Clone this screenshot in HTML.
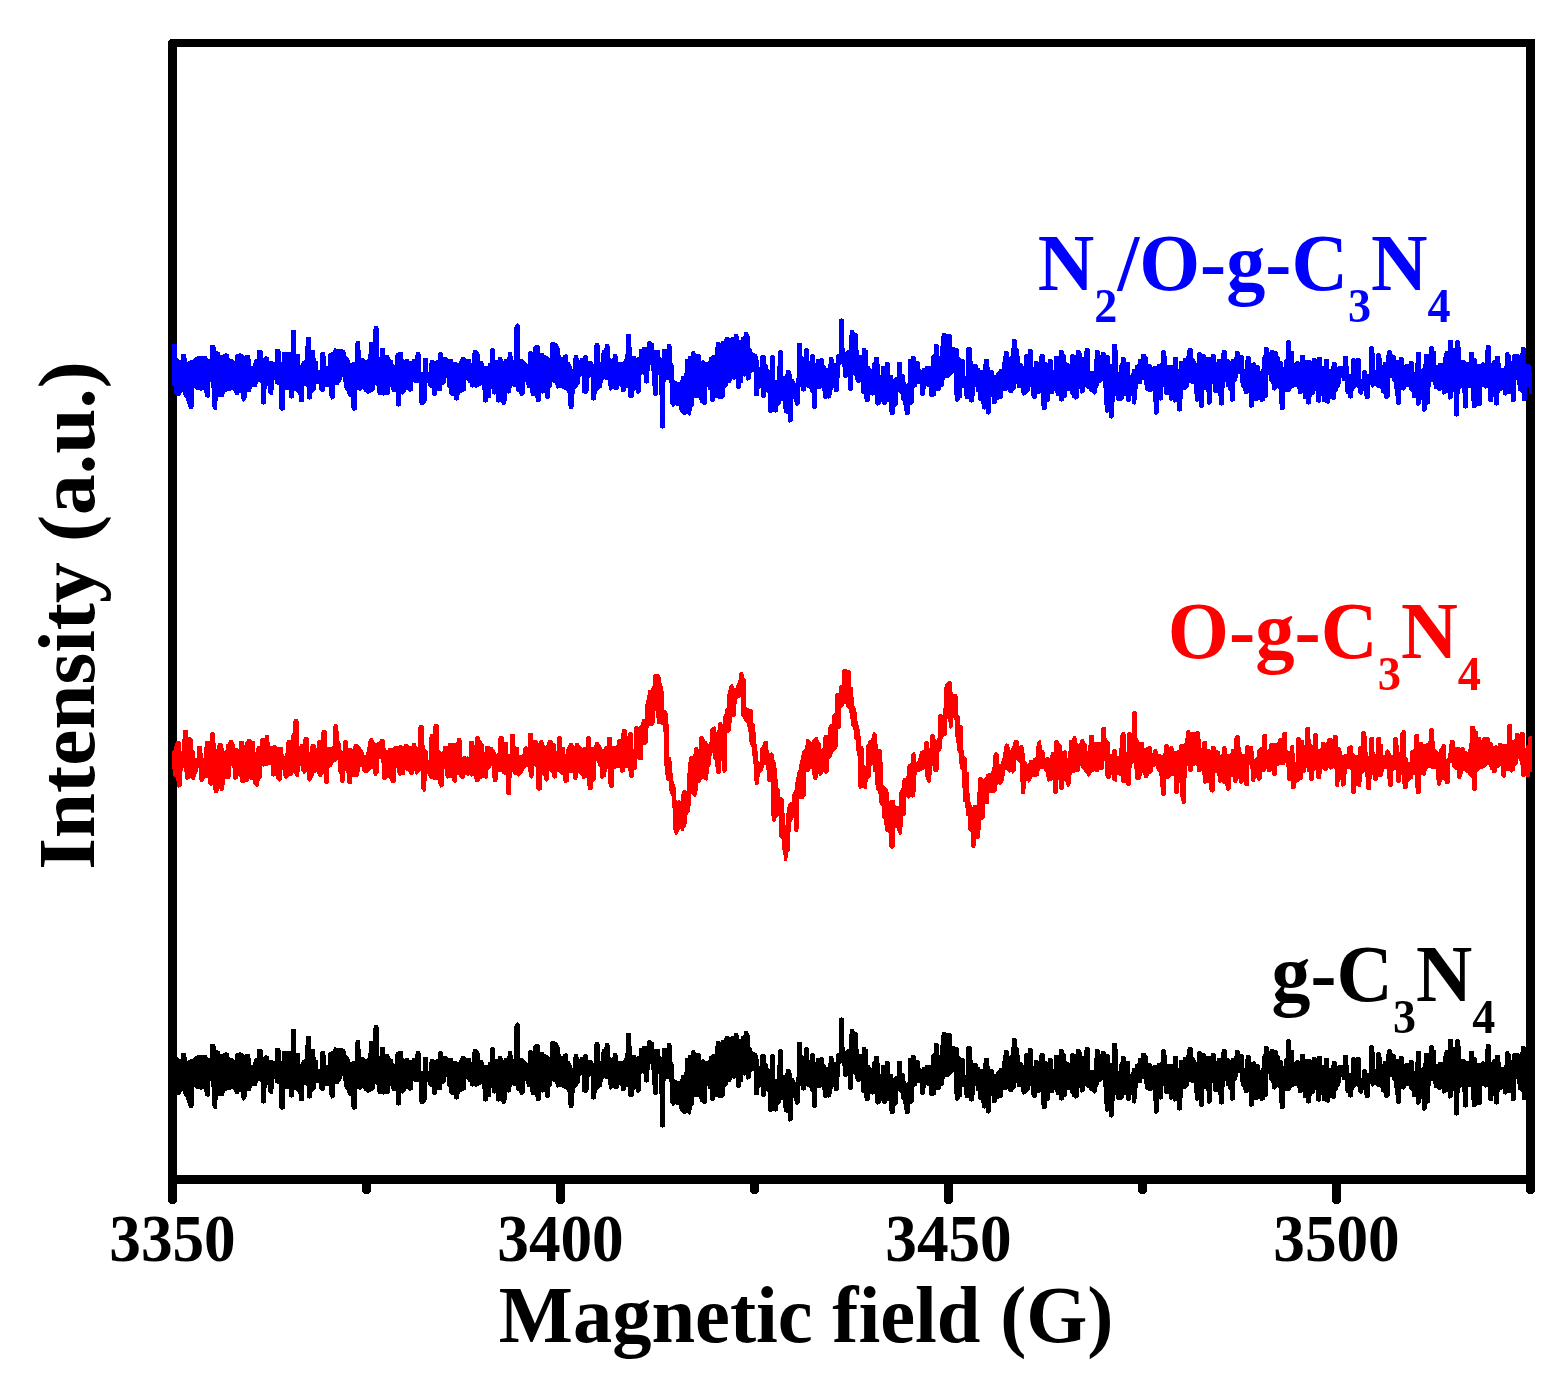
<!DOCTYPE html>
<html lang="en"><head><meta charset="utf-8"><title>EPR spectra</title>
<style>html,body{margin:0;padding:0;background:#fff}svg{display:block}</style></head>
<body>
<svg width="1558" height="1375" viewBox="0 0 1558 1375">
<defs><path id="tr" d="M172.3,344.0 176.7,344.0 177.1,357.5 180.3,360.7 181.6,353.6 186.0,353.6 186.9,362.0 193.1,359.4 197.6,355.6 207.2,356.2 207.6,358.8 210.1,358.8 210.4,344.7 215.2,344.7 216.0,351.1 219.4,351.7 220.3,355.6 225.2,353.4 228.4,353.6 229.7,358.5 232.9,358.5 234.2,362.6 235.5,354.9 239.3,353.4 242.9,353.6 243.8,355.6 250.2,355.2 251.1,365.8 252.8,366.5 254.1,360.1 257.0,358.8 257.5,349.8 262.4,349.5 263.1,358.5 265.6,356.2 268.6,356.9 269.5,361.3 275.0,361.6 275.5,348.5 280.4,348.5 281.2,365.8 282.3,352.1 290.9,352.1 291.3,329.5 295.8,329.5 296.2,354.3 299.7,354.3 300.3,365.8 302.9,360.7 305.0,360.1 305.4,347.2 306.3,336.7 310.6,336.7 311.2,350.1 315.1,350.1 315.7,361.1 317.6,361.1 318.3,369.7 319.6,369.7 320.4,353.6 321.5,352.4 325.3,352.4 326.0,365.8 327.6,365.8 328.5,353.6 333.0,351.7 334.3,348.3 342.0,349.2 345.2,350.8 346.5,356.2 349.1,358.1 350.4,362.6 354.6,362.4 355.1,344.0 356.1,341.2 360.0,341.2 361.0,358.1 363.8,358.1 365.1,360.7 368.3,358.8 369.0,342.1 373.0,342.1 373.3,329.3 374.2,326.0 377.8,326.0 378.9,328.6 379.1,356.9 380.1,356.9 380.4,348.1 384.9,348.1 385.3,354.9 388.7,354.9 390.0,358.8 392.6,360.1 393.5,363.9 394.8,364.9 395.2,356.2 396.5,353.0 398.6,352.0 402.9,352.0 403.3,358.8 404.8,360.7 405.4,359.0 408.9,359.0 409.3,360.7 411.9,360.7 412.5,359.0 415.1,359.0 415.3,355.2 416.3,352.1 419.9,352.1 420.8,354.3 421.2,371.9 422.8,371.9 423.2,358.1 427.9,358.1 428.2,371.9 428.9,371.9 429.4,363.3 430.2,360.3 433.7,360.1 435.0,361.0 437.9,359.8 438.2,353.4 439.5,352.1 442.0,352.1 443.0,353.6 443.3,357.2 446.5,357.2 448.2,358.8 452.7,359.0 453.1,362.0 456.8,362.0 457.7,362.9 459.0,362.9 459.7,360.7 461.3,357.2 464.5,357.2 466.2,358.8 470.9,359.0 471.3,362.9 472.2,362.9 472.3,354.3 473.2,350.2 476.9,350.2 478.6,352.1 479.6,354.3 480.1,361.1 482.8,361.3 483.7,362.9 484.1,365.8 488.0,365.8 488.2,362.9 489.9,362.9 490.2,349.2 491.4,348.1 493.8,348.1 494.9,349.5 495.2,359.8 497.9,359.8 498.2,357.2 501.7,357.2 502.6,359.0 503.4,360.7 504.7,359.0 506.8,358.8 507.7,356.9 508.3,352.1 512.0,352.1 512.4,354.7 512.9,359.8 513.7,359.8 513.9,329.9 515.2,324.8 517.4,323.1 519.7,325.4 520.1,359.0 522.6,359.0 524.2,360.3 526.1,362.4 527.8,364.9 528.0,352.4 529.3,351.1 531.6,351.1 532.5,352.0 533.2,347.2 535.5,345.0 538.6,345.0 539.8,346.2 540.1,353.0 543.7,353.3 544.7,355.2 547.5,356.2 549.6,358.1 550.1,344.0 551.1,342.1 554.7,342.1 557.6,343.6 558.6,346.6 559.9,349.2 560.4,354.9 562.0,357.5 563.7,354.9 565.0,354.3 567.1,354.3 568.0,355.6 568.2,362.0 570.0,362.4 570.9,364.6 571.8,367.1 572.6,369.1 573.1,360.3 574.1,355.2 577.7,355.2 578.6,357.8 579.3,360.1 580.3,357.9 582.8,357.9 583.7,356.0 585.0,354.9 587.0,355.2 588.0,356.9 588.2,361.0 591.8,361.0 592.7,362.9 593.6,363.9 594.0,347.2 595.0,343.1 598.8,343.1 599.8,345.3 600.1,362.0 600.8,362.0 601.1,354.3 602.1,350.1 604.3,349.5 605.2,344.0 608.8,344.0 609.8,346.2 610.1,357.8 611.3,359.0 612.6,357.8 613.1,354.0 616.7,354.0 617.8,356.2 618.0,362.0 622.9,362.0 623.9,360.7 624.8,357.8 625.2,354.3 626.0,353.6 626.2,334.0 630.9,334.0 631.1,347.0 631.9,347.5 632.1,356.0 635.7,356.0 636.5,358.1 637.7,356.9 638.9,356.5 639.3,349.2 641.9,348.9 642.4,347.0 647.0,347.0 647.3,342.3 648.6,341.1 650.9,341.1 651.9,342.7 653.7,343.4 654.1,349.8 659.9,350.1 660.1,356.5 661.4,358.1 662.1,357.8 662.3,349.2 666.8,348.9 667.2,344.0 670.7,344.0 671.7,346.2 672.1,362.6 673.0,363.7 673.6,365.5 674.0,380.0 675.5,380.9 677.5,381.9 679.6,381.9 680.7,380.0 681.1,376.1 683.9,375.9 684.3,372.9 684.9,372.6 685.2,359.0 687.7,358.8 688.1,356.2 690.9,356.0 691.2,352.4 692.5,351.1 694.5,351.1 696.1,353.6 699.7,354.0 700.9,355.6 701.2,360.7 703.1,360.1 704.4,361.1 705.7,362.0 707.6,362.0 708.9,360.7 709.3,357.2 710.8,356.9 712.5,355.2 714.8,354.9 715.1,347.2 716.0,346.6 716.2,342.1 719.8,342.1 720.5,343.1 721.5,340.8 724.1,340.8 724.3,338.9 725.3,337.0 728.8,337.0 729.7,338.0 731.4,337.0 733.9,337.0 734.3,334.0 737.8,334.0 738.7,336.1 739.1,339.8 740.7,339.9 741.3,337.0 742.9,336.7 744.0,335.7 744.2,332.1 747.8,332.1 748.7,334.0 749.7,335.9 750.0,347.9 751.9,349.2 752.3,352.1 754.5,353.0 756.7,354.3 758.3,356.9 759.0,366.5 760.0,367.1 760.1,356.9 761.2,355.2 764.6,355.2 765.9,356.9 766.2,363.9 767.6,365.2 768.1,367.8 768.9,369.7 769.9,369.7 770.1,356.2 771.4,355.2 773.6,355.2 774.6,356.5 774.9,380.0 776.8,380.0 777.2,365.8 778.1,365.2 778.4,351.1 779.4,350.2 781.7,350.2 783.0,351.3 783.2,375.7 784.8,375.7 785.3,373.9 786.1,373.5 786.3,370.1 789.7,370.1 790.9,371.4 791.3,373.9 792.0,374.2 792.2,379.1 793.8,379.3 794.5,381.2 795.1,382.9 795.8,382.9 796.1,378.0 796.8,377.8 797.1,343.1 801.9,343.1 802.1,354.9 803.1,356.9 803.8,356.9 804.2,349.5 805.3,348.1 807.6,348.1 808.9,349.5 809.2,360.7 809.9,360.7 810.2,355.2 811.5,354.3 813.4,354.3 814.8,355.2 815.1,362.9 816.1,362.9 816.4,359.0 819.8,359.0 820.5,358.1 822.4,358.1 823.7,359.4 824.1,364.9 825.3,365.8 826.2,367.8 827.9,367.8 828.2,363.9 828.9,363.9 829.2,357.2 832.7,357.2 833.3,358.8 834.1,359.0 834.3,362.9 835.9,362.9 836.1,354.9 837.4,354.0 838.7,354.0 839.1,319.0 841.3,318.3 843.8,319.0 844.1,347.9 844.9,348.5 845.4,351.7 846.8,350.8 847.7,350.2 849.0,350.2 849.2,335.0 850.0,334.4 850.3,330.2 853.8,330.2 854.6,332.1 855.9,333.1 857.1,333.5 857.7,334.4 858.0,349.8 858.7,350.4 859.0,354.9 861.8,354.9 862.1,348.1 865.7,348.1 866.2,350.1 868.0,350.2 868.2,365.8 869.9,366.2 870.5,368.4 871.8,369.1 872.1,362.9 873.7,362.0 874.1,357.2 878.9,357.2 879.1,363.9 879.8,364.6 880.0,374.8 881.1,374.8 881.3,366.1 884.9,366.1 885.2,362.2 888.5,362.0 889.5,363.3 889.8,374.8 892.6,375.1 893.1,378.7 893.9,379.1 895.2,377.4 896.7,377.0 897.0,362.0 901.7,362.0 902.1,373.9 903.7,374.2 904.7,375.5 904.9,381.9 906.0,382.5 906.7,384.2 907.8,382.5 908.0,359.0 910.8,358.8 911.1,356.2 914.4,356.2 915.7,357.5 916.1,361.1 918.7,361.1 919.8,362.4 920.1,368.8 921.1,369.3 921.6,370.3 922.4,368.0 924.7,367.8 925.1,366.1 930.9,365.8 931.1,356.2 932.4,355.2 933.7,354.0 934.1,344.3 937.5,344.0 938.8,345.3 939.1,356.0 939.9,356.0 940.1,346.2 940.9,345.7 941.1,336.3 942.2,335.7 942.4,333.1 945.6,333.1 946.3,334.0 950.8,334.0 951.8,335.4 952.0,347.0 955.0,347.0 955.4,348.1 958.0,348.1 959.0,349.5 959.2,356.9 960.9,358.5 963.5,358.8 964.6,360.3 964.9,375.7 965.9,375.7 966.2,348.1 967.5,347.2 970.5,347.2 971.8,348.5 972.1,361.1 972.8,361.6 973.1,363.9 976.7,363.9 978.0,365.5 978.5,367.8 979.8,368.2 980.3,369.7 982.9,369.7 983.1,364.6 984.0,363.9 984.3,359.0 988.8,359.0 989.0,367.1 990.1,367.8 990.3,369.9 993.0,370.3 993.9,371.6 994.2,374.8 995.7,374.8 996.2,373.2 997.8,371.6 999.0,370.6 999.3,369.1 1001.9,368.8 1002.1,362.4 1002.9,362.0 1003.1,356.2 1003.9,355.6 1004.2,351.1 1007.8,351.1 1008.8,352.4 1009.1,356.9 1010.1,356.5 1011.1,355.6 1011.4,348.1 1012.1,347.5 1012.4,339.3 1015.7,339.3 1016.8,340.4 1017.0,347.9 1018.0,348.5 1018.8,349.5 1019.1,356.0 1019.8,356.5 1020.1,362.9 1021.9,363.3 1022.9,364.2 1023.2,365.8 1023.9,365.8 1024.2,355.2 1025.5,354.3 1027.8,354.0 1028.0,349.2 1031.5,349.2 1032.8,350.4 1033.1,366.7 1034.0,366.7 1034.2,361.1 1037.5,361.1 1038.3,362.0 1038.8,361.6 1039.1,356.2 1040.4,354.3 1043.7,354.3 1044.7,355.6 1045.0,362.0 1046.9,362.4 1047.8,362.9 1048.1,359.0 1051.7,359.0 1052.7,360.3 1053.0,369.9 1053.7,369.9 1054.0,356.2 1058.9,356.0 1059.1,350.2 1062.7,350.2 1063.7,351.3 1064.0,354.0 1065.0,354.7 1065.8,355.6 1066.0,362.0 1067.3,362.6 1069.4,363.7 1069.9,363.7 1070.2,355.2 1071.4,354.3 1073.5,354.3 1074.3,354.9 1075.8,354.7 1076.1,350.2 1079.7,350.2 1080.7,351.3 1081.2,353.0 1082.0,353.6 1082.2,356.9 1083.8,356.9 1084.0,351.3 1084.8,350.8 1085.0,348.1 1088.6,348.1 1089.9,349.5 1090.2,370.7 1094.0,370.7 1094.3,359.0 1094.8,358.8 1095.1,350.2 1098.7,350.2 1099.7,351.3 1099.9,354.9 1101.0,354.9 1101.2,352.1 1105.1,352.1 1106.0,353.4 1106.2,354.9 1108.7,354.9 1109.7,356.2 1109.9,363.9 1112.0,363.9 1112.3,344.3 1116.9,344.3 1117.1,350.2 1117.9,350.8 1118.2,371.9 1118.9,371.9 1119.2,365.5 1120.2,364.6 1120.5,362.9 1121.0,362.6 1121.2,357.2 1124.8,357.2 1125.9,358.5 1126.1,362.0 1129.7,362.0 1130.0,374.8 1131.0,374.8 1131.3,372.9 1132.0,372.6 1132.3,369.1 1134.9,368.8 1135.1,365.2 1136.4,364.6 1137.7,363.9 1137.9,359.0 1140.8,359.0 1141.0,354.3 1145.4,354.3 1146.4,355.6 1147.7,356.9 1147.9,363.9 1150.0,364.2 1151.4,363.9 1151.9,367.8 1153.0,366.2 1156.8,366.1 1157.3,364.2 1159.8,363.9 1160.9,362.9 1161.2,351.3 1162.5,350.2 1164.8,350.2 1165.8,351.3 1166.1,356.0 1166.8,356.5 1167.1,364.9 1172.7,364.9 1173.0,357.2 1177.7,357.2 1178.0,369.1 1178.9,369.1 1179.1,361.1 1182.7,361.1 1183.0,358.1 1185.8,358.1 1186.3,356.0 1186.8,355.6 1187.1,350.2 1188.4,348.1 1191.9,348.1 1192.8,349.5 1193.0,358.1 1194.3,359.0 1195.8,361.1 1196.1,362.9 1196.9,362.9 1197.1,353.4 1198.4,352.1 1200.5,352.1 1201.5,353.4 1202.3,354.3 1204.7,354.3 1205.6,355.6 1206.1,356.9 1210.7,356.9 1211.2,354.3 1214.6,354.3 1215.6,355.6 1215.9,362.0 1216.9,362.0 1217.4,359.0 1221.0,359.0 1221.3,353.4 1222.0,353.0 1222.3,350.2 1225.9,350.2 1226.6,351.3 1226.9,359.0 1229.0,359.0 1229.7,360.3 1230.5,361.1 1231.8,359.0 1233.8,358.8 1234.1,356.9 1234.9,356.5 1235.1,351.1 1238.7,351.1 1239.7,352.4 1240.0,354.9 1242.6,354.9 1243.6,356.2 1243.8,369.1 1244.9,369.1 1245.1,360.3 1245.9,359.8 1246.2,356.2 1249.6,356.2 1250.8,357.5 1251.0,362.6 1252.3,362.9 1252.8,362.0 1254.8,362.0 1255.7,363.3 1256.2,364.9 1258.7,364.9 1259.8,366.2 1260.0,370.7 1261.0,370.7 1261.3,369.1 1261.8,368.8 1262.1,357.2 1262.8,356.9 1263.1,354.9 1263.9,354.7 1264.1,347.2 1267.7,347.2 1268.7,348.3 1269.0,351.7 1270.0,351.7 1270.3,350.2 1273.6,350.2 1274.4,351.1 1276.7,351.1 1277.7,352.4 1278.0,356.0 1279.0,356.5 1279.8,357.5 1280.0,361.1 1281.8,361.1 1282.9,362.4 1283.1,366.9 1283.9,366.9 1284.2,360.3 1285.2,359.4 1285.9,358.8 1286.2,341.2 1287.2,340.2 1289.5,340.2 1290.7,341.2 1291.0,351.1 1293.9,351.1 1294.2,362.9 1295.2,362.4 1296.5,361.1 1298.5,361.1 1299.6,362.4 1300.1,362.4 1300.3,354.9 1304.7,354.9 1304.9,359.0 1306.2,360.1 1310.6,360.1 1311.6,361.1 1312.1,358.5 1313.2,358.1 1315.7,358.1 1316.8,359.4 1317.3,357.2 1321.9,357.2 1322.2,365.8 1323.7,365.8 1323.9,359.0 1328.8,359.0 1329.1,368.8 1330.6,368.8 1331.1,366.2 1331.9,365.8 1332.2,362.0 1335.8,362.0 1336.8,363.3 1337.3,367.1 1338.6,366.1 1342.7,366.1 1343.2,356.2 1345.0,356.2 1348.0,356.2 1348.2,365.8 1349.0,366.5 1349.2,373.9 1351.0,373.9 1351.3,359.4 1352.3,358.1 1354.4,358.1 1355.4,359.0 1356.4,358.1 1359.5,358.1 1360.8,359.4 1361.1,379.1 1361.8,379.1 1362.1,371.4 1363.4,370.1 1365.7,370.1 1366.7,371.4 1367.2,373.8 1368.8,373.8 1369.0,347.5 1370.6,346.2 1372.9,346.2 1373.9,347.5 1374.1,353.0 1374.9,353.6 1375.2,369.9 1375.9,369.9 1376.2,354.3 1377.5,353.3 1379.8,353.3 1380.8,354.7 1381.1,358.1 1381.8,358.5 1382.1,364.9 1382.9,364.9 1383.1,362.0 1386.0,362.0 1386.2,355.2 1387.0,354.7 1387.2,351.3 1388.5,350.2 1390.8,350.2 1391.9,351.3 1392.1,354.0 1393.1,354.3 1393.9,355.2 1394.9,355.2 1396.0,356.5 1396.2,360.1 1398.8,360.1 1399.1,357.2 1402.6,357.2 1403.7,358.5 1403.9,364.9 1405.2,364.9 1405.7,363.9 1409.1,363.9 1409.3,361.1 1412.9,361.1 1413.9,362.4 1414.2,372.0 1415.0,372.0 1415.2,363.3 1416.0,362.9 1416.3,352.1 1420.9,352.1 1421.1,369.1 1422.2,368.4 1422.9,367.8 1423.2,364.6 1424.0,363.9 1424.2,354.3 1428.8,354.0 1429.1,347.5 1430.4,346.2 1432.7,346.2 1433.7,347.5 1434.0,351.1 1435.6,351.3 1435.9,364.9 1437.6,364.9 1438.1,362.9 1442.7,362.9 1443.0,357.2 1443.7,356.9 1444.0,353.4 1445.0,353.0 1445.3,351.1 1448.1,351.1 1448.3,340.2 1452.7,340.2 1453.0,347.9 1455.0,347.9 1455.3,341.2 1456.6,340.2 1458.9,340.2 1459.9,341.2 1460.2,347.2 1460.7,347.5 1460.9,360.1 1464.5,360.1 1465.8,361.1 1466.3,362.0 1468.9,362.0 1469.1,352.1 1473.8,352.1 1474.0,358.1 1475.6,358.5 1476.6,359.4 1476.8,363.9 1479.4,363.9 1480.2,364.9 1481.2,362.9 1482.7,362.0 1483.8,362.0 1484.8,362.9 1485.1,350.2 1485.8,349.8 1486.1,345.3 1487.4,344.9 1489.7,344.9 1490.7,346.2 1491.0,362.9 1491.7,362.9 1492.2,361.1 1493.5,360.3 1494.8,360.1 1495.1,356.2 1499.7,356.2 1499.9,362.9 1500.7,363.3 1501.0,368.0 1503.8,368.0 1504.1,366.1 1504.8,365.8 1505.1,353.4 1506.4,352.1 1508.4,352.1 1509.4,353.4 1510.2,354.9 1510.7,355.2 1511.0,360.7 1511.8,360.7 1512.0,355.2 1513.3,354.0 1518.7,354.0 1519.5,354.9 1520.5,353.4 1521.0,353.0 1521.3,347.2 1524.9,347.2 1525.9,348.1 1526.1,363.9 1529.7,364.2 1530.8,365.5 1531.0,372.0 1531.9,372.3 L1531.9,394.1 1529.2,394.1 1529.0,387.0 1527.2,387.0 1526.9,399.9 1526.1,400.9 1522.0,400.9 1521.8,393.7 1520.5,392.2 1519.5,391.1 1518.2,390.9 1517.9,385.1 1517.2,384.5 1516.9,380.3 1515.9,380.3 1515.6,400.9 1514.6,401.8 1511.0,401.8 1510.7,394.1 1510.0,394.1 1509.2,394.7 1508.2,394.1 1506.4,394.7 1505.3,395.8 1504.3,395.0 1503.0,394.7 1502.8,389.8 1502.0,390.6 1500.5,390.9 1499.9,392.8 1498.9,393.2 1498.7,404.7 1497.4,405.0 1496.4,406.0 1495.6,405.3 1494.0,404.7 1493.8,397.0 1493.0,397.0 1492.5,401.8 1489.4,401.8 1488.1,400.9 1487.9,387.7 1486.6,387.7 1485.6,388.6 1484.3,388.0 1483.0,387.0 1482.0,386.8 1481.7,404.7 1480.9,405.6 1477.4,406.0 1476.6,406.5 1475.4,407.8 1472.2,407.8 1472.0,401.4 1470.9,400.9 1470.7,388.0 1467.9,388.0 1467.6,407.6 1466.6,407.8 1465.5,408.8 1464.5,408.2 1463.0,407.6 1462.7,393.2 1462.0,392.8 1461.7,388.0 1461.2,388.0 1459.9,389.3 1459.6,393.7 1458.9,394.1 1458.6,415.5 1456.3,416.8 1454.0,415.5 1453.7,391.8 1453.0,391.8 1452.7,397.5 1452.2,397.9 1450.9,399.2 1449.4,399.9 1448.1,398.6 1447.8,392.8 1446.3,392.8 1445.0,394.1 1443.7,394.7 1442.2,393.7 1441.7,389.8 1440.1,390.9 1438.8,391.8 1437.6,390.6 1436.5,388.9 1434.0,388.9 1433.7,385.1 1432.9,384.5 1432.7,382.1 1431.1,382.1 1430.9,386.8 1429.9,387.0 1429.6,404.0 1428.6,404.0 1428.1,404.7 1427.0,405.3 1426.8,409.9 1425.2,411.2 1423.7,412.1 1422.2,410.8 1421.9,399.9 1421.1,399.9 1420.9,403.5 1420.4,404.0 1419.1,405.3 1417.5,406.0 1416.0,404.7 1415.7,397.9 1412.1,397.9 1411.9,392.8 1411.4,391.8 1410.3,390.9 1409.1,389.8 1408.5,387.0 1407.0,387.0 1406.2,387.7 1405.7,389.3 1404.4,389.8 1403.4,390.9 1402.6,390.2 1400.8,390.2 1400.6,403.7 1399.3,405.0 1397.5,405.0 1396.2,403.7 1396.0,396.0 1395.2,395.8 1394.9,389.3 1394.2,388.6 1393.9,382.5 1392.9,381.2 1391.9,380.3 1391.6,378.0 1390.1,378.0 1389.8,396.6 1388.5,397.9 1387.2,398.8 1385.4,398.8 1384.2,397.9 1383.6,394.1 1382.4,393.2 1381.1,392.8 1380.8,388.9 1380.1,388.0 1377.5,387.7 1376.7,387.0 1375.4,385.7 1374.9,386.0 1373.9,387.0 1372.6,387.7 1371.6,387.0 1371.1,385.7 1370.0,385.1 1369.8,397.5 1368.8,398.6 1365.4,398.6 1364.9,396.0 1364.1,395.8 1363.9,390.9 1362.8,390.9 1362.6,393.7 1361.3,394.7 1359.8,394.7 1358.7,393.7 1358.0,392.8 1357.7,388.0 1356.9,387.0 1355.7,387.0 1355.1,388.6 1354.4,388.9 1353.9,390.9 1352.8,391.1 1352.6,397.9 1351.6,397.9 1350.5,398.8 1349.8,397.9 1348.2,397.5 1347.7,394.1 1346.4,393.7 1345.4,391.8 1345.0,380.9 1342.4,380.6 1342.2,378.0 1341.1,378.0 1340.9,383.8 1340.4,384.2 1339.4,387.0 1338.3,387.7 1338.1,390.6 1337.0,391.5 1336.0,392.2 1335.8,398.8 1334.2,399.9 1332.9,400.9 1332.2,399.9 1331.1,398.8 1330.1,398.8 1329.9,402.2 1328.6,403.5 1327.0,403.7 1325.7,403.1 1324.5,401.8 1322.2,401.8 1321.9,396.0 1320.9,396.0 1320.6,401.8 1319.3,402.7 1317.3,402.4 1316.2,401.4 1316.0,390.9 1315.2,390.9 1315.0,393.7 1314.2,394.7 1312.1,395.0 1311.6,397.0 1311.1,397.5 1310.9,403.5 1309.3,404.0 1308.3,405.0 1307.5,404.0 1306.2,403.5 1305.7,398.8 1303.2,398.6 1302.9,393.2 1302.4,392.8 1301.1,394.1 1300.1,394.7 1299.0,394.1 1298.0,393.4 1297.8,389.3 1297.2,388.9 1296.7,387.0 1294.2,387.0 1293.4,387.7 1291.6,388.6 1291.3,390.9 1290.1,391.8 1287.7,391.8 1287.0,392.8 1286.5,392.2 1284.9,392.2 1284.7,408.6 1283.6,409.5 1280.0,409.5 1279.8,404.4 1279.3,403.7 1279.0,389.6 1278.5,389.3 1277.2,388.0 1276.7,389.3 1275.4,389.8 1274.4,390.9 1273.4,389.8 1272.3,389.6 1272.1,384.5 1271.6,384.2 1270.8,382.9 1269.8,381.2 1269.0,380.6 1268.7,375.2 1268.0,375.2 1267.7,396.6 1266.4,397.9 1264.9,397.9 1264.6,400.5 1263.7,401.4 1261.3,401.8 1260.0,401.4 1259.5,399.9 1258.0,399.9 1257.5,400.9 1253.9,400.9 1253.6,406.9 1251.8,407.8 1250.0,407.6 1248.7,406.3 1248.5,392.8 1247.7,393.7 1244.1,393.7 1243.8,391.1 1243.3,390.9 1243.1,388.9 1242.3,387.7 1241.3,386.8 1241.0,383.2 1240.0,382.9 1239.7,373.9 1237.9,373.9 1237.7,377.8 1237.2,378.0 1236.9,380.3 1236.1,381.2 1234.9,382.1 1234.6,400.5 1233.6,401.4 1232.0,401.8 1230.8,401.4 1229.7,400.5 1229.5,390.9 1228.2,389.8 1227.7,387.0 1226.1,386.8 1225.9,382.1 1225.1,382.1 1224.8,387.7 1223.8,388.6 1223.6,404.7 1222.5,405.0 1221.5,406.0 1220.7,405.3 1218.9,404.7 1218.7,396.0 1218.2,395.8 1217.7,392.8 1214.3,392.8 1213.0,391.8 1212.8,383.8 1212.0,383.8 1211.8,402.4 1210.5,403.7 1209.2,405.0 1208.2,404.7 1207.1,403.7 1206.9,392.2 1206.4,391.8 1205.8,389.8 1204.1,389.8 1203.8,406.5 1202.5,407.8 1200.2,407.6 1199.2,406.3 1198.9,400.9 1198.4,400.5 1197.4,401.8 1196.1,401.4 1195.1,400.5 1194.8,394.1 1194.0,393.7 1193.8,383.8 1191.5,383.8 1190.6,383.2 1189.0,383.2 1188.6,387.0 1187.1,388.6 1185.8,389.8 1183.0,389.8 1182.7,398.6 1182.0,399.2 1181.7,410.8 1180.4,411.2 1179.4,412.1 1178.6,411.2 1177.1,410.8 1176.8,401.4 1175.8,402.2 1174.3,402.7 1173.0,401.4 1172.5,399.9 1171.4,400.9 1170.2,400.9 1169.0,399.6 1168.7,394.7 1165.3,394.7 1164.0,393.7 1163.7,387.0 1163.0,387.0 1162.7,399.6 1161.7,399.9 1160.4,400.9 1159.6,399.6 1158.9,399.9 1158.6,413.3 1157.3,414.6 1155.5,414.6 1154.2,413.3 1154.0,402.4 1153.2,401.8 1153.0,390.9 1152.4,390.9 1151.2,391.8 1150.0,391.8 1148.3,391.5 1146.4,390.6 1145.1,389.6 1144.9,385.1 1144.1,384.5 1143.6,380.0 1142.0,380.3 1141.5,383.8 1140.2,384.5 1139.2,383.8 1137.9,384.2 1137.7,388.6 1136.9,388.9 1136.4,403.7 1134.3,404.7 1132.0,403.7 1131.8,395.8 1131.0,395.8 1130.7,400.5 1129.5,401.8 1127.4,401.8 1126.1,400.5 1125.9,395.8 1124.3,395.8 1123.9,398.6 1122.7,399.6 1121.4,400.9 1117.7,400.9 1116.4,399.9 1116.1,396.0 1115.3,395.8 1115.1,401.4 1114.1,401.8 1113.5,417.6 1111.2,418.9 1109.2,417.6 1108.7,411.8 1107.6,412.7 1106.4,412.7 1105.3,411.8 1105.1,405.3 1104.0,404.7 1103.8,388.0 1103.0,387.7 1102.5,380.9 1100.8,382.5 1098.9,383.2 1098.4,387.0 1097.4,388.0 1097.1,392.2 1095.8,393.7 1094.5,394.7 1093.3,393.7 1091.7,392.2 1091.2,390.9 1090.7,391.8 1089.7,390.9 1088.1,388.9 1086.6,388.6 1086.1,387.0 1085.0,386.8 1084.8,391.5 1084.3,391.8 1083.0,393.2 1081.7,393.7 1080.2,392.8 1079.9,388.9 1078.9,388.9 1078.6,397.9 1077.1,398.8 1075.8,399.9 1074.8,398.8 1073.5,397.9 1072.0,397.5 1071.4,394.7 1070.2,393.7 1069.6,391.1 1067.1,391.1 1066.8,397.0 1065.5,397.9 1064.0,397.9 1063.6,400.9 1062.5,400.9 1061.4,401.8 1060.4,400.9 1059.1,400.5 1058.9,396.0 1056.0,395.8 1055.5,392.8 1055.0,391.1 1054.0,391.1 1053.5,394.1 1050.1,394.1 1049.9,400.9 1048.8,401.8 1046.9,401.8 1046.7,408.8 1045.6,409.9 1042.4,409.9 1042.2,406.3 1041.4,405.6 1041.1,393.2 1040.6,393.2 1039.6,394.1 1037.0,394.1 1036.8,397.9 1035.8,398.8 1034.1,399.6 1032.8,398.6 1032.2,396.6 1031.1,395.8 1030.9,387.0 1030.1,387.0 1029.8,390.6 1028.6,391.8 1027.0,393.2 1025.2,395.0 1023.9,395.8 1022.7,395.0 1021.9,393.4 1020.9,392.8 1020.6,388.0 1018.7,388.6 1017.3,387.7 1017.0,384.1 1016.0,383.8 1015.7,388.9 1014.8,389.3 1013.7,390.9 1012.4,392.8 1011.1,393.7 1009.8,392.8 1008.5,391.8 1007.8,389.8 1006.5,390.9 1003.1,390.9 1002.9,397.9 1001.9,398.8 999.3,398.8 998.8,399.9 997.2,399.9 997.0,402.4 995.7,403.7 992.1,403.7 991.8,397.0 991.1,397.0 990.8,413.3 990.1,413.7 988.5,415.0 987.5,414.0 985.9,413.3 985.7,408.8 984.7,409.9 983.6,409.1 982.1,408.6 981.8,404.4 981.1,403.7 980.6,400.9 979.0,400.5 978.0,399.9 977.7,392.2 976.4,391.8 976.2,387.0 975.2,387.0 974.9,395.8 974.0,396.3 973.7,401.8 972.6,401.8 971.3,402.7 970.3,401.8 969.0,401.8 968.7,398.8 965.1,398.8 964.9,396.3 964.1,395.8 963.9,388.0 962.1,388.0 961.8,397.9 960.0,397.9 959.6,399.9 958.0,401.4 956.7,401.8 955.1,400.5 955.0,394.7 954.2,394.7 954.0,372.9 952.9,374.2 951.4,375.2 950.1,376.8 948.8,377.8 945.2,377.8 945.0,379.3 944.0,380.0 943.7,385.7 942.4,386.8 940.9,387.0 940.6,389.8 939.2,390.9 938.1,390.9 937.0,390.2 936.0,390.9 935.7,395.8 934.1,396.6 930.6,396.6 929.3,395.8 929.1,387.0 927.7,386.8 926.0,385.1 925.7,388.6 925.0,388.9 924.7,394.7 923.2,395.8 921.4,395.8 920.1,394.7 919.8,383.8 917.3,383.8 917.0,386.4 915.5,387.0 914.2,388.0 913.9,402.7 913.5,403.1 911.6,404.7 910.1,405.0 909.8,413.7 908.8,414.6 905.4,414.6 905.2,411.4 904.4,410.8 904.2,405.3 903.3,405.0 902.9,401.4 902.1,400.5 901.1,399.9 900.8,394.1 899.4,392.8 898.0,392.2 897.7,404.7 896.2,406.3 895.2,406.9 894.9,413.7 893.9,414.6 890.4,414.6 890.0,412.7 889.3,412.1 889.0,401.8 887.0,401.8 886.7,403.7 885.7,404.7 883.9,405.0 882.3,404.4 881.3,401.8 881.1,402.4 880.2,404.4 878.5,405.0 877.6,406.0 876.7,405.0 875.3,403.7 875.0,394.7 874.4,395.0 872.5,395.8 871.2,395.4 870.1,394.7 869.9,400.9 868.6,401.8 865.4,401.8 865.1,398.8 864.1,398.6 863.9,394.1 862.6,393.7 861.3,392.8 861.0,381.9 860.3,382.1 859.6,382.9 857.7,382.9 856.4,381.9 855.5,380.0 855.1,376.8 854.1,375.5 853.1,375.1 852.8,389.6 851.5,390.9 849.7,390.9 848.5,389.8 848.2,376.8 847.7,376.8 846.9,377.8 844.6,377.8 843.3,376.8 843.1,367.1 842.3,366.5 841.6,363.9 840.0,365.2 839.7,377.8 839.0,378.0 838.7,390.6 837.2,391.8 834.1,391.8 833.8,388.0 833.3,388.0 833.0,389.3 832.0,389.8 831.8,394.7 831.0,394.7 830.7,397.9 829.5,397.9 828.4,398.8 827.5,397.9 826.9,398.8 824.6,398.8 823.4,397.9 823.0,391.1 822.3,390.9 822.0,388.0 821.5,387.7 820.7,388.9 817.1,388.9 816.9,407.6 815.3,408.8 813.8,408.8 812.3,407.8 812.0,393.2 811.2,392.8 809.9,391.1 809.7,389.3 808.9,388.0 807.4,387.7 806.1,387.0 805.7,390.9 804.4,390.9 803.3,392.2 802.2,390.9 801.2,390.9 801.0,387.0 800.2,386.8 799.9,403.7 798.9,404.4 798.0,405.6 796.3,405.6 795.3,404.7 794.5,402.2 794.2,399.6 793.1,398.8 792.9,420.4 791.2,421.9 789.9,423.0 788.1,421.4 787.7,413.7 785.8,413.7 784.3,412.7 783.9,409.1 783.0,408.6 782.7,400.9 781.1,400.9 780.7,403.7 779.4,405.0 777.8,406.0 777.6,411.8 776.2,411.8 775.5,412.7 774.5,412.1 772.3,412.1 771.7,412.7 769.4,412.7 768.1,411.7 767.8,393.2 767.3,392.8 766.3,392.2 766.0,396.6 764.6,397.9 762.4,397.9 761.2,396.3 760.8,387.7 760.1,388.3 760.0,388.9 759.0,389.3 758.7,395.4 757.7,396.3 755.8,396.6 754.1,395.4 753.8,372.3 752.6,372.0 751.3,372.9 750.8,378.7 749.3,380.0 747.4,380.9 745.9,379.3 745.5,375.7 744.2,376.8 743.2,376.1 742.8,382.5 741.0,383.2 740.7,387.7 739.5,388.6 737.8,388.9 736.4,387.7 736.1,380.0 735.4,379.1 733.9,380.0 732.3,379.3 731.0,382.5 728.2,382.9 727.9,385.7 726.2,387.0 725.0,388.0 724.6,397.0 723.3,398.6 721.5,398.6 720.2,399.6 718.9,398.8 717.6,397.9 715.1,397.9 714.8,400.5 713.5,401.8 711.7,401.8 710.2,400.5 709.7,390.2 708.4,389.8 707.9,387.7 707.0,387.0 706.6,403.7 705.7,404.7 703.5,404.7 701.8,403.1 700.2,402.4 699.4,399.9 698.9,397.9 695.4,397.9 694.0,397.3 693.5,406.0 691.7,408.2 691.2,414.6 689.4,415.9 688.1,415.0 686.8,413.7 685.8,414.6 682.6,414.6 681.3,412.4 680.4,411.7 679.4,409.9 678.9,406.0 676.8,406.0 675.5,405.0 674.2,406.3 672.7,406.9 671.2,405.0 670.1,402.7 669.9,383.4 669.4,382.9 668.9,380.3 666.3,380.3 665.0,382.5 664.7,427.5 662.3,428.7 660.1,427.5 659.9,395.0 659.1,394.7 658.8,375.2 658.1,375.2 657.6,394.7 656.5,395.8 654.7,395.8 653.5,394.7 652.9,386.4 652.2,385.7 651.9,371.4 651.1,371.0 650.9,365.2 650.1,364.9 649.9,371.0 649.0,371.4 648.6,382.5 647.3,382.9 646.3,383.8 644.2,382.9 643.7,375.5 642.2,373.8 641.1,375.5 640.6,391.8 638.9,393.4 637.7,394.1 636.4,392.8 635.5,390.2 633.9,391.1 633.7,397.0 632.1,397.9 630.0,397.9 628.3,397.0 628.0,388.3 627.4,387.7 626.1,388.6 625.7,391.1 624.2,392.2 622.9,392.4 621.4,391.8 620.8,387.0 619.3,386.0 618.8,388.6 617.5,389.8 614.6,389.8 612.9,388.6 612.0,390.2 610.7,390.9 609.4,389.6 609.0,386.4 608.3,386.0 607.8,380.0 605.6,380.0 604.3,379.3 603.0,380.3 602.4,384.2 601.8,387.7 600.4,388.0 599.2,389.6 597.5,391.1 597.0,393.7 596.2,394.1 595.7,399.6 593.4,400.9 591.2,399.9 590.8,376.8 589.0,378.0 588.5,391.5 586.7,393.7 584.6,394.1 583.7,392.8 582.1,392.8 581.6,376.1 580.0,376.8 579.5,383.8 578.2,385.1 577.3,387.7 575.4,388.9 575.1,393.4 574.1,394.1 573.9,406.3 572.6,408.8 569.2,408.8 568.3,404.7 568.0,393.4 567.1,392.2 565.8,390.2 565.0,389.6 564.0,389.6 562.7,388.6 560.1,388.0 557.6,388.6 556.3,387.7 554.7,383.2 552.4,382.1 551.8,386.4 550.1,388.0 549.6,398.3 547.0,398.8 545.4,397.9 545.0,393.4 544.1,392.8 542.8,393.7 541.1,393.2 540.6,400.9 538.0,402.7 536.5,401.8 535.7,397.9 534.7,396.0 531.2,395.8 530.3,391.8 529.7,387.7 528.7,388.6 526.7,387.0 526.2,382.1 525.5,381.9 524.8,394.1 523.2,395.8 520.3,395.8 519.0,392.8 517.5,391.8 516.2,390.2 515.4,386.0 513.9,387.0 512.0,385.7 511.1,389.3 510.7,392.8 508.8,393.7 507.2,393.2 506.7,399.6 506.2,403.7 504.9,404.7 502.6,404.7 501.3,402.7 500.0,401.8 498.5,402.7 496.2,401.8 495.7,394.1 494.4,394.7 492.5,393.7 492.1,389.3 491.1,388.9 490.5,397.9 488.0,398.6 487.6,401.8 485.4,402.8 483.4,401.8 483.1,390.2 482.1,389.8 481.8,385.1 481.2,385.5 478.6,387.0 475.7,388.0 474.8,387.3 472.2,387.7 470.5,387.0 470.0,383.2 468.3,382.9 467.7,380.9 466.2,380.0 465.8,390.2 465.1,391.1 462.6,391.8 460.6,393.2 459.1,395.0 458.7,399.6 456.4,400.9 454.3,399.6 454.0,395.8 450.8,395.8 449.2,393.7 448.7,388.0 447.2,386.8 446.9,378.0 446.1,378.0 445.9,382.5 443.9,384.5 442.0,385.1 441.8,390.6 440.1,390.6 439.5,391.1 437.1,391.1 436.9,394.7 435.6,395.8 433.7,395.8 432.1,394.7 431.8,388.0 430.5,387.7 428.5,386.0 428.2,383.8 427.3,383.2 426.9,400.5 425.3,403.1 423.8,404.7 420.5,404.7 419.3,402.4 418.9,382.9 414.4,382.9 413.0,381.9 412.5,391.1 409.3,391.8 408.0,390.2 406.3,390.2 405.4,392.8 402.9,394.7 401.3,394.1 400.9,405.6 398.4,406.9 396.2,405.6 395.8,391.8 392.6,391.8 391.4,390.2 391.1,387.7 390.0,387.0 389.8,393.4 388.7,394.7 385.5,394.7 383.0,395.8 381.7,394.7 378.5,394.7 377.2,392.8 376.8,386.4 375.0,385.1 374.6,389.8 372.7,391.9 368.3,394.1 364.5,391.5 362.6,389.3 360.0,390.9 357.4,390.2 356.8,409.5 353.8,411.8 351.3,408.2 350.7,397.0 347.8,396.0 347.2,392.2 344.3,387.7 342.7,376.8 341.4,380.6 338.8,384.5 335.0,385.1 334.6,397.9 331.5,399.9 329.4,396.0 328.5,387.0 325.3,387.0 324.7,390.9 322.1,392.8 319.6,390.2 318.7,384.2 316.3,384.2 315.7,390.2 312.5,392.8 311.8,398.6 309.3,399.6 307.4,398.6 306.7,387.0 304.1,385.7 303.5,401.8 300.9,402.7 299.4,401.8 298.4,394.1 296.4,391.5 294.3,390.9 293.9,397.9 291.7,398.6 289.4,397.9 288.7,390.2 285.1,390.2 284.6,409.5 281.9,411.8 279.4,408.8 278.9,385.1 275.3,383.8 274.2,378.0 273.3,394.1 270.8,395.8 268.2,392.8 267.3,383.8 266.3,390.9 265.6,403.7 263.5,405.0 261.4,403.7 260.9,383.2 257.9,381.2 257.0,386.8 252.2,387.0 250.9,391.5 247.0,391.5 246.4,399.9 243.4,401.8 241.2,398.6 240.3,390.9 238.7,394.7 235.5,394.7 234.2,392.2 232.3,390.2 228.4,390.9 224.9,392.2 223.7,396.6 217.8,396.6 216.9,409.5 213.6,409.5 212.4,406.3 211.7,390.9 211.1,382.5 210.1,381.9 209.5,397.3 207.2,397.9 205.3,396.6 204.0,390.2 200.8,390.6 196.3,389.8 194.4,388.3 193.7,406.3 192.8,408.6 189.3,408.6 187.3,403.7 185.4,397.9 183.1,394.7 182.2,390.2 180.9,395.4 176.4,395.8 174.5,394.1 173.9,385.7 172.3,385.1Z"/></defs>
<rect width="1558" height="1375" fill="#fff"/>
<g fill="#000" shape-rendering="crispEdges">
<path d="M168,41 L170,39 H1535 V1184 H168 Z M177,47 V1175 H1526 V47 Z" fill-rule="evenodd"/>
<path d="M168.0,1180 V1201 L168.6,1202.2 L169.6,1203.2 L171.0,1204 L174.0,1204 L175.4,1203.2 L176.4,1202.2 L177.0,1201 V1180 Z"/>
<path d="M556.0,1180 V1201 L556.6,1202.2 L557.6,1203.2 L559.0,1204 L562.0,1204 L563.4,1203.2 L564.4,1202.2 L565.0,1201 V1180 Z"/>
<path d="M944.0,1180 V1201 L944.6,1202.2 L945.6,1203.2 L947.0,1204 L950.0,1204 L951.4,1203.2 L952.4,1202.2 L953.0,1201 V1180 Z"/>
<path d="M1332.0,1180 V1201 L1332.6,1202.2 L1333.6,1203.2 L1335.0,1204 L1338.0,1204 L1339.4,1203.2 L1340.4,1202.2 L1341.0,1201 V1180 Z"/>
<path d="M362.0,1180 V1191 L362.6,1192.2 L363.6,1193.2 L365.0,1194 L368.0,1194 L369.4,1193.2 L370.4,1192.2 L371.0,1191 V1180 Z"/>
<path d="M750.0,1180 V1191 L750.6,1192.2 L751.6,1193.2 L753.0,1194 L756.0,1194 L757.4,1193.2 L758.4,1192.2 L759.0,1191 V1180 Z"/>
<path d="M1138.0,1180 V1191 L1138.6,1192.2 L1139.6,1193.2 L1141.0,1194 L1144.0,1194 L1145.4,1193.2 L1146.4,1192.2 L1147.0,1191 V1180 Z"/>
<path d="M1526.0,1180 V1191 L1526.6,1192.2 L1527.6,1193.2 L1529.0,1194 L1532.0,1194 L1533.4,1193.2 L1534.4,1192.2 L1535.0,1191 V1180 Z"/>
</g>
<g stroke="none" shape-rendering="crispEdges">
<use href="#tr" fill="#00f"/>
<path fill="#f00" d="M172.3,750.8 173.6,750.2 175.1,743.5 176.4,741.2 179.6,741.2 180.9,742.8 181.2,750.8 182.1,750.8 182.3,739.3 183.1,738.6 183.4,730.0 187.7,730.0 188.0,737.1 191.2,737.1 192.6,739.0 192.8,748.9 193.9,749.9 194.6,751.2 194.9,757.9 197.0,757.9 197.2,746.3 201.6,746.3 201.8,752.1 202.9,752.8 203.1,757.9 203.9,757.9 204.1,747.4 204.9,747.0 205.2,741.2 210.1,741.2 210.3,733.1 211.3,732.2 213.6,732.2 214.7,733.1 214.9,742.2 215.7,742.8 216.0,748.9 216.7,748.9 217.2,745.3 218.3,743.1 221.9,743.1 222.9,745.1 223.4,747.9 224.2,748.3 224.4,751.1 225.5,750.2 226.0,748.9 226.2,744.4 227.5,743.8 228.5,741.9 229.3,740.2 232.4,740.2 233.4,741.9 234.4,743.1 235.0,747.9 237.5,747.9 238.8,749.2 239.1,741.2 243.7,741.2 243.9,745.1 245.0,745.1 245.5,742.5 246.8,741.0 247.5,739.3 250.6,739.3 251.6,740.6 252.2,741.2 254.7,741.2 255.0,752.1 256.0,752.1 256.3,748.3 257.0,747.9 257.3,746.1 260.1,746.1 260.4,739.3 261.4,738.4 264.7,738.0 265.3,735.2 268.3,735.2 269.4,736.7 269.6,746.1 272.7,746.1 273.5,745.3 276.0,745.3 276.8,747.0 282.7,747.0 283.0,754.1 284.0,754.7 284.5,756.4 285.3,753.4 286.0,752.8 286.3,742.2 287.3,740.2 290.7,740.2 291.2,735.2 292.5,733.1 293.0,732.9 293.2,722.0 294.3,719.4 297.6,719.4 298.6,721.3 298.9,746.1 299.9,746.1 300.2,744.4 301.2,743.8 302.7,743.8 303.2,739.3 304.5,737.1 307.9,737.1 308.6,738.4 308.9,752.1 309.9,752.1 310.2,746.1 311.2,744.4 314.8,744.4 315.8,745.7 316.1,747.9 316.9,747.9 317.1,741.2 318.4,740.2 321.0,740.2 321.2,732.2 322.5,730.0 325.8,730.0 326.6,731.2 326.9,747.0 332.0,747.0 332.8,746.1 333.0,727.1 334.3,724.3 337.4,724.3 338.4,726.2 338.7,739.3 339.4,741.0 340.5,743.1 341.0,749.2 342.0,751.1 342.8,751.1 343.0,741.2 344.3,740.2 346.9,740.2 347.9,741.5 348.2,747.9 351.8,748.3 352.5,748.9 353.1,747.0 354.3,744.4 357.9,744.4 359.5,745.7 360.8,747.0 361.0,748.9 362.0,749.6 363.3,751.1 363.8,754.1 364.6,755.1 366.1,754.7 366.7,750.2 367.7,746.3 368.2,741.9 369.0,739.3 370.0,739.0 370.9,738.0 372.7,738.4 373.7,739.9 374.8,742.2 376.0,742.8 377.8,742.2 379.1,741.9 380.4,739.3 383.7,739.3 384.8,740.6 385.0,747.9 385.8,748.3 386.3,749.9 387.8,749.9 388.4,748.3 392.5,747.9 393.5,747.0 394.8,746.1 398.6,746.1 399.7,745.1 401.5,745.1 402.7,746.1 403.8,746.1 404.3,744.4 405.3,744.0 407.6,744.0 408.9,745.1 409.9,746.1 411.7,746.1 412.2,743.1 415.6,743.1 416.3,745.1 417.1,747.0 417.9,747.0 418.1,729.0 419.2,724.5 422.8,724.5 423.8,726.2 424.1,744.0 424.8,745.1 425.1,748.9 426.6,749.6 427.6,750.8 427.9,759.8 428.7,759.8 428.9,737.1 430.0,736.1 430.2,734.2 433.0,734.2 433.3,726.2 434.6,724.3 437.9,724.3 438.9,725.8 439.2,749.9 440.2,750.8 441.3,751.9 442.8,750.8 443.0,746.1 447.7,746.1 448.2,743.1 455.6,743.1 456.7,742.2 457.2,738.4 460.5,738.4 461.5,740.2 461.8,756.9 462.6,757.3 463.6,756.0 465.1,756.0 466.4,756.9 467.4,756.4 468.5,756.9 469.0,755.3 469.2,741.2 473.9,741.2 474.1,745.1 474.9,745.1 475.1,738.0 476.4,736.1 478.7,736.1 479.8,737.4 480.3,739.9 481.3,740.2 482.3,742.2 483.4,744.0 483.9,745.7 484.1,752.1 484.9,752.1 485.2,746.1 489.8,746.1 490.8,747.0 492.6,747.4 493.6,748.9 494.7,750.5 495.9,752.8 496.7,754.1 497.7,752.8 498.0,739.3 499.3,736.1 502.6,736.1 503.6,737.6 503.9,742.2 507.7,742.2 508.0,754.1 509.8,754.1 510.1,734.2 514.9,734.2 515.2,746.1 516.2,747.0 518.5,747.0 518.8,755.1 522.1,755.1 522.9,753.0 523.2,748.9 524.2,747.6 525.5,746.3 526.5,746.1 527.3,747.0 527.8,746.6 528.0,733.1 532.7,733.1 532.9,739.9 536.5,740.2 537.5,741.2 538.3,743.1 539.1,741.2 540.4,740.2 542.7,740.2 543.7,741.9 544.2,744.4 545.5,746.1 546.5,744.8 547.3,742.2 548.6,740.2 551.6,740.2 552.9,741.5 553.7,743.1 555.0,743.5 555.8,745.1 556.3,751.1 556.8,751.1 557.0,737.1 558.3,736.1 560.9,736.1 561.9,737.4 562.2,747.0 565.0,747.4 565.5,754.1 566.0,749.3 568.1,746.5 569.3,743.2 572.5,743.2 574.2,745.6 574.9,745.9 575.3,743.4 578.5,743.4 580.4,745.6 582.3,747.7 583.4,747.0 585.7,746.8 586.1,737.1 587.4,736.1 589.5,736.1 590.6,737.3 590.8,746.8 593.6,746.8 594.6,745.1 595.3,742.3 598.6,742.3 599.7,744.1 601.2,746.0 602.0,748.1 603.1,749.8 603.9,747.5 605.4,746.2 606.9,746.0 607.1,737.1 611.8,737.1 612.0,746.0 615.6,746.0 616.3,747.7 616.9,740.4 618.2,739.2 620.7,739.0 621.1,733.3 622.0,732.8 622.2,729.5 623.1,729.0 625.8,729.0 626.9,730.4 627.1,735.6 627.9,735.8 628.2,732.8 629.4,732.1 631.5,732.1 632.6,733.3 633.0,749.8 633.5,749.8 633.9,727.6 635.2,726.2 637.3,726.0 638.4,726.7 640.0,725.2 640.9,724.5 641.3,722.4 642.0,721.9 642.4,719.4 643.2,719.1 644.9,719.1 645.1,719.1 645.2,719.5 645.5,703.5 646.4,703.1 646.7,695.5 648.1,694.8 648.4,690.5 651.3,690.0 651.6,686.8 652.8,686.1 653.4,674.9 654.8,674.0 658.0,674.0 659.8,675.5 660.7,677.4 660.9,682.7 662.4,683.2 662.7,690.9 663.6,691.5 663.9,709.8 665.6,710.4 667.1,711.8 667.9,713.7 668.2,723.2 668.8,723.9 669.1,756.6 670.5,757.4 671.4,758.8 672.0,772.6 672.9,774.1 673.5,781.4 674.3,782.5 674.9,786.5 675.8,787.5 676.4,799.5 677.5,800.6 679.6,800.3 680.4,801.7 681.3,799.5 681.6,792.3 682.8,790.4 685.7,790.4 686.8,791.5 687.4,773.4 688.3,772.6 688.6,758.1 689.7,756.3 692.7,756.1 693.8,753.7 694.1,748.6 695.3,747.3 697.6,747.3 698.8,749.1 699.3,737.7 700.5,736.3 703.4,736.3 704.3,738.5 704.9,740.6 706.9,741.2 707.8,743.5 708.9,744.3 710.1,740.6 710.4,729.7 711.6,727.5 713.6,726.8 714.8,726.1 715.6,727.5 716.2,731.9 717.4,731.2 718.0,723.2 719.1,722.0 721.7,722.0 722.3,723.9 722.9,723.5 723.2,716.6 724.4,715.9 724.7,710.1 726.1,708.6 727.0,707.9 727.3,694.1 728.4,692.6 728.7,686.8 730.2,684.6 732.5,684.2 733.7,686.1 734.5,688.3 736.0,687.5 736.6,684.6 737.5,683.6 737.7,681.0 738.6,680.3 738.9,673.7 740.4,672.3 742.4,672.3 743.6,674.0 743.9,677.4 745.3,678.8 745.9,680.3 746.2,707.2 747.6,708.3 752.0,708.9 753.2,710.8 753.5,723.2 754.9,724.3 755.5,731.9 756.1,732.6 756.7,749.4 757.5,750.8 757.8,761.0 760.1,762.2 760.4,748.6 761.9,746.5 763.1,744.3 763.6,741.8 764.8,740.9 767.4,741.2 768.3,742.8 768.6,753.0 769.7,753.4 770.9,752.3 772.9,752.6 773.8,754.5 774.4,759.5 775.6,762.5 776.4,766.1 777.0,777.0 777.6,779.9 778.2,787.9 779.6,789.4 780.2,796.6 781.7,797.4 783.7,798.8 784.3,810.5 784.9,817.7 785.5,825.0 786.3,825.0 786.6,808.3 788.1,806.1 788.7,803.2 790.7,802.0 792.1,801.7 792.4,793.7 793.9,791.5 794.8,789.4 795.6,781.4 796.8,775.5 797.4,771.9 798.8,769.7 799.4,764.6 800.0,763.9 800.2,763.9 800.8,755.9 802.0,754.5 802.3,750.8 803.7,749.4 805.2,748.6 806.1,739.5 809.3,739.2 810.4,740.9 811.3,742.1 812.7,739.5 814.5,737.7 816.2,737.0 818.0,737.7 818.9,742.1 820.6,742.8 821.5,748.6 822.6,748.2 823.2,737.0 824.4,735.5 827.9,735.1 828.2,729.0 829.0,724.6 831.9,724.3 832.2,715.2 833.4,713.7 834.9,713.0 835.1,694.8 836.3,693.5 838.6,693.2 838.9,686.8 840.4,685.4 841.8,684.8 842.1,669.7 844.2,669.1 847.9,669.7 850.6,670.8 850.9,686.1 852.6,687.5 852.9,695.5 854.1,698.5 854.6,707.2 856.1,708.6 857.0,715.2 857.8,724.6 859.3,725.8 859.9,734.8 860.7,737.0 861.3,745.7 863.1,746.7 863.9,748.6 864.5,765.4 866.0,765.7 866.3,745.7 867.7,743.5 868.3,740.6 870.6,739.9 871.5,737.7 872.1,734.1 873.5,732.2 875.3,732.2 876.5,734.1 877.0,743.5 877.9,744.3 878.5,748.6 881.4,749.1 882.0,753.0 882.6,763.9 882.9,784.3 884.3,785.4 885.5,787.2 887.2,788.6 888.4,790.1 889.0,800.3 889.8,801.0 891.0,799.5 894.5,799.5 895.1,805.4 898.9,805.8 899.1,792.3 900.3,790.1 901.8,787.9 902.1,780.6 903.2,778.5 906.4,778.2 907.0,767.5 908.2,763.9 910.8,763.2 911.4,753.7 913.1,752.0 914.9,752.6 915.7,754.5 916.3,761.7 917.5,761.0 918.6,758.1 919.5,754.5 920.1,751.1 923.6,750.1 924.2,742.8 925.3,741.4 927.9,741.2 928.8,742.8 929.1,748.6 930.0,747.9 930.3,734.8 931.4,734.1 934.3,734.1 934.9,736.3 935.8,740.6 937.0,739.9 937.8,736.3 938.1,715.2 939.6,714.2 941.9,714.5 942.8,715.2 943.1,708.3 944.2,707.5 944.5,687.5 945.7,683.9 947.1,682.2 948.6,681.0 950.6,681.3 951.8,682.7 952.1,691.9 953.3,693.4 953.8,694.1 955.0,694.1 956.6,694.4 957.8,696.3 958.1,715.2 959.5,716.2 959.8,724.6 962.2,725.4 963.0,726.8 963.3,750.1 963.9,750.8 964.2,755.9 965.7,756.6 966.8,758.8 967.1,771.2 969.1,772.9 969.7,801.0 971.2,803.2 972.1,808.3 973.5,805.4 977.0,804.9 977.3,792.3 978.2,791.5 978.5,778.5 979.6,777.3 982.2,777.3 983.1,779.9 984.3,777.7 986.0,777.0 986.3,774.4 988.6,773.4 991.0,772.6 992.4,769.0 993.0,756.6 994.5,753.0 996.2,752.0 997.9,753.0 998.8,755.2 999.1,763.2 1000.3,764.6 1001.4,761.7 1003.2,755.2 1004.1,747.2 1005.2,744.3 1006.7,743.3 1008.4,743.8 1009.3,745.7 1009.9,750.1 1011.3,749.1 1012.5,745.7 1013.7,741.4 1015.4,739.5 1017.4,739.5 1018.6,741.4 1019.2,745.7 1021.5,744.7 1023.0,745.7 1023.8,747.9 1024.4,752.3 1025.3,760.3 1026.7,762.2 1028.2,764.6 1029.4,760.3 1032.9,759.8 1033.7,758.1 1036.1,756.9 1036.6,744.3 1038.1,740.6 1040.4,740.3 1041.3,741.8 1041.9,750.1 1043.6,750.5 1044.8,752.3 1045.1,757.8 1046.8,757.4 1048.6,756.9 1049.4,758.1 1051.3,752.1 1053.9,751.9 1054.1,741.2 1055.4,740.2 1057.7,740.2 1059.0,741.9 1060.3,743.5 1061.8,745.3 1062.1,750.8 1063.1,751.1 1063.9,750.2 1065.7,750.2 1066.7,751.5 1066.9,757.9 1067.7,757.9 1068.0,751.5 1069.0,750.8 1069.3,740.2 1072.1,739.9 1072.6,737.1 1073.9,736.1 1075.7,736.1 1076.7,738.0 1077.0,742.2 1078.2,743.8 1079.3,743.5 1079.8,741.5 1081.1,739.3 1083.4,739.3 1084.4,741.0 1085.4,742.8 1086.7,744.4 1087.2,751.1 1088.0,751.1 1088.3,745.3 1089.0,744.4 1089.3,735.2 1093.9,735.2 1094.2,742.2 1100.8,742.2 1101.1,728.4 1102.4,727.1 1105.7,727.1 1106.0,738.0 1107.3,739.3 1108.5,740.6 1109.6,742.2 1109.8,754.1 1111.4,754.1 1112.1,751.5 1112.4,749.6 1113.4,748.9 1115.7,748.9 1116.8,750.2 1117.0,756.0 1118.8,756.0 1119.3,753.4 1120.0,736.7 1121.3,733.1 1122.6,732.2 1124.6,732.2 1125.6,734.2 1125.9,751.9 1126.9,751.9 1127.2,733.5 1128.5,732.2 1130.8,732.2 1131.8,733.1 1132.1,713.0 1133.4,711.3 1135.7,711.3 1136.7,712.7 1136.9,737.1 1138.0,738.0 1138.5,740.2 1139.5,742.2 1143.6,742.2 1143.9,747.6 1145.7,747.9 1146.7,747.0 1148.5,746.1 1150.8,746.1 1151.8,747.6 1152.1,752.8 1153.1,752.8 1153.6,749.9 1154.9,748.9 1156.5,749.2 1157.5,750.8 1158.0,753.8 1160.1,754.1 1161.3,755.1 1162.9,755.1 1163.9,752.1 1164.2,745.3 1165.4,744.0 1167.8,744.0 1168.8,745.3 1169.3,747.0 1170.3,746.3 1172.6,746.3 1173.7,747.9 1174.4,750.8 1177.0,750.8 1178.0,749.9 1179.1,749.6 1179.3,745.3 1180.6,744.4 1183.9,743.8 1185.0,742.5 1185.2,738.4 1186.0,738.0 1186.2,731.2 1187.5,729.9 1189.6,729.9 1190.3,732.0 1195.7,732.0 1196.5,731.2 1198.8,731.2 1199.8,732.5 1200.1,739.3 1200.9,739.7 1201.1,747.9 1202.2,747.9 1202.4,741.9 1203.7,741.2 1206.8,741.2 1207.0,748.9 1209.3,749.2 1210.6,750.2 1211.1,746.3 1214.7,746.3 1215.8,747.6 1216.0,749.9 1217.8,750.2 1218.8,751.1 1219.9,751.5 1220.4,755.1 1221.4,754.7 1221.9,751.9 1222.2,747.6 1223.5,746.1 1225.5,746.1 1226.5,747.9 1226.8,753.8 1229.4,754.1 1230.1,753.0 1230.9,752.8 1231.2,749.2 1234.0,748.9 1234.2,738.4 1235.5,736.1 1236.8,735.2 1238.9,735.2 1239.9,736.3 1240.2,747.0 1240.9,747.6 1241.4,751.9 1242.2,753.4 1243.0,754.1 1244.8,754.1 1245.0,747.0 1246.3,745.3 1248.4,745.3 1249.4,746.1 1252.7,746.1 1253.0,751.1 1253.8,751.5 1254.3,758.9 1255.3,757.9 1256.8,756.9 1257.1,750.5 1258.4,749.2 1259.4,747.6 1260.4,747.0 1262.0,747.0 1262.2,735.2 1263.5,734.2 1266.6,734.2 1266.9,749.9 1267.9,750.2 1268.9,748.9 1269.4,744.4 1270.4,743.5 1271.5,743.1 1276.9,743.1 1277.6,741.9 1278.2,739.3 1279.2,738.4 1282.0,738.0 1282.3,733.1 1283.5,732.2 1286.6,732.2 1286.9,749.9 1288.2,750.8 1289.7,751.1 1290.0,746.3 1291.2,745.1 1293.3,745.1 1294.3,746.3 1294.8,761.8 1295.9,761.8 1296.1,738.4 1297.4,737.1 1299.5,737.1 1300.5,738.4 1301.0,739.9 1303.3,739.9 1304.1,741.2 1304.3,745.1 1305.1,745.1 1305.4,728.4 1306.4,727.3 1309.7,727.3 1310.0,738.0 1310.8,738.9 1311.3,744.0 1312.3,745.3 1313.1,744.4 1313.3,734.2 1314.6,733.1 1316.7,733.1 1317.7,734.5 1317.9,748.9 1320.0,749.2 1320.9,747.6 1321.2,742.2 1324.8,742.2 1325.8,743.1 1326.8,741.9 1327.3,739.3 1328.6,738.4 1331.4,738.0 1332.5,739.3 1333.0,737.1 1333.2,735.2 1336.6,735.2 1337.8,736.3 1338.1,747.0 1339.6,747.4 1340.7,748.7 1341.2,750.8 1342.0,751.5 1342.2,755.1 1343.5,755.1 1344.5,754.1 1346.6,753.8 1347.1,747.9 1348.4,746.3 1349.9,745.3 1351.5,745.3 1352.7,746.6 1353.0,753.0 1354.0,753.8 1355.3,755.1 1357.6,755.1 1357.9,747.6 1359.2,746.3 1360.7,746.1 1361.2,732.5 1362.5,731.2 1364.6,731.2 1365.8,732.5 1366.1,736.1 1366.9,736.3 1367.1,752.1 1367.9,752.8 1368.1,756.0 1368.9,756.0 1369.2,738.0 1370.5,737.1 1373.8,737.1 1374.1,751.9 1374.8,752.8 1375.1,754.1 1376.1,754.1 1376.4,738.0 1377.6,737.1 1380.7,737.1 1381.0,743.8 1382.5,744.0 1383.0,755.1 1384.8,755.1 1385.1,751.5 1386.4,750.2 1387.7,749.2 1388.9,750.2 1390.2,751.1 1390.7,754.7 1392.8,755.1 1393.3,738.4 1394.6,737.4 1396.6,737.1 1397.7,738.4 1398.2,745.1 1399.0,745.3 1399.2,752.1 1400.0,752.1 1400.2,733.1 1401.8,731.2 1403.1,729.9 1404.9,730.3 1405.9,731.6 1406.1,756.9 1407.2,757.6 1407.9,759.2 1408.2,762.0 1409.7,762.0 1410.0,752.1 1411.0,750.8 1412.3,749.6 1413.6,749.2 1414.1,735.2 1415.6,734.2 1418.7,734.2 1419.0,741.9 1422.6,742.2 1423.3,743.8 1425.1,743.8 1426.2,743.1 1427.7,742.8 1428.5,741.2 1429.0,741.0 1429.2,729.4 1430.5,728.1 1432.8,728.1 1433.9,729.4 1434.1,741.0 1434.9,741.5 1435.2,748.9 1436.4,749.9 1437.7,751.1 1438.5,751.9 1439.3,749.9 1440.0,747.9 1441.1,747.4 1441.6,745.3 1442.6,744.4 1444.7,744.4 1445.7,745.3 1445.9,758.9 1447.0,758.9 1448.0,757.6 1448.5,753.0 1449.3,752.5 1449.5,744.0 1450.0,743.8 1450.3,740.2 1453.9,740.2 1454.9,741.5 1455.2,747.0 1459.5,747.0 1460.3,747.9 1461.1,747.0 1463.7,747.0 1464.7,748.3 1464.9,750.8 1466.5,751.1 1467.5,751.9 1468.3,748.9 1468.8,748.3 1469.3,743.1 1470.1,742.5 1470.3,726.2 1474.7,726.2 1474.9,728.4 1476.0,729.0 1476.5,730.9 1477.8,731.6 1478.0,737.1 1480.6,737.1 1481.4,739.9 1482.1,738.4 1483.4,737.4 1484.4,737.1 1488.8,737.1 1489.8,738.4 1490.1,741.9 1491.6,742.2 1492.7,743.5 1493.2,745.7 1494.5,746.1 1495.5,745.1 1497.0,745.3 1497.8,746.1 1498.3,743.5 1499.3,743.1 1501.6,743.1 1502.7,744.0 1506.8,744.0 1507.0,725.8 1508.3,724.3 1511.7,724.3 1511.9,739.9 1513.2,739.9 1514.0,739.0 1515.0,739.0 1515.0,733.1 1518.9,733.1 1519.4,734.0 1520.1,732.2 1523.8,732.1 1524.7,733.3 1525.0,747.9 1526.0,747.9 1526.2,745.9 1527.6,744.7 1527.9,737.5 1529.2,736.0 1531.8,736.0 1531.9,749.1 L1531.9,771.9 1530.0,772.4 1529.8,776.7 1526.2,776.7 1525.6,776.0 1524.7,776.7 1522.4,776.7 1521.1,775.8 1520.8,765.1 1520.1,764.8 1519.9,761.3 1519.0,760.7 1518.7,759.1 1518.1,759.0 1517.8,763.3 1516.5,764.8 1515.0,766.0 1515.0,770.7 1514.0,771.0 1512.7,772.0 1511.4,772.7 1510.1,771.8 1509.1,771.0 1506.0,771.0 1505.8,777.2 1505.2,777.8 1503.2,777.8 1502.2,777.2 1501.1,776.1 1500.9,766.2 1500.1,765.9 1499.3,766.9 1498.1,767.9 1497.0,768.2 1496.8,771.8 1496.0,772.7 1492.4,772.7 1492.2,771.0 1491.1,770.1 1489.8,769.5 1489.6,766.9 1488.8,765.3 1487.5,765.3 1485.7,766.9 1484.2,767.9 1482.1,768.8 1480.6,769.2 1479.3,770.7 1478.0,771.8 1477.0,772.7 1476.7,789.7 1475.5,790.6 1473.4,790.6 1472.1,789.7 1471.9,778.2 1470.8,777.8 1469.8,776.8 1468.8,775.2 1468.0,773.6 1467.0,773.0 1465.7,771.8 1464.4,770.7 1463.4,771.0 1462.9,773.6 1461.9,774.3 1461.3,778.7 1458.5,778.7 1457.2,777.8 1457.0,770.1 1456.2,770.1 1454.7,769.2 1453.4,767.9 1452.1,766.9 1451.8,762.8 1451.3,763.0 1450.0,763.7 1449.8,782.5 1449.0,783.6 1445.2,783.6 1444.7,781.0 1443.4,780.0 1441.8,780.0 1441.3,783.8 1439.8,785.5 1438.5,785.9 1437.2,784.6 1437.0,780.8 1435.9,779.7 1435.7,768.8 1431.3,768.8 1430.5,768.2 1428.0,768.2 1426.9,770.7 1425.9,771.8 1425.7,774.3 1424.9,775.6 1423.1,775.9 1422.1,774.8 1421.0,774.8 1420.8,792.6 1420.0,793.6 1416.2,793.6 1415.9,788.1 1414.9,787.4 1414.6,774.8 1413.3,774.8 1413.1,778.2 1412.0,779.1 1410.3,780.0 1409.0,781.6 1407.9,782.5 1407.7,787.7 1406.9,788.7 1403.3,788.7 1402.8,783.8 1402.0,783.6 1401.8,775.2 1400.8,775.2 1400.5,782.0 1399.2,782.9 1397.4,782.9 1396.1,781.6 1395.9,769.7 1395.4,770.1 1393.8,770.5 1393.0,770.7 1392.8,785.5 1391.3,787.2 1389.7,787.7 1388.4,786.4 1388.2,779.7 1387.4,778.7 1387.1,769.2 1384.1,769.2 1383.8,772.0 1383.0,773.0 1382.5,775.9 1381.5,776.8 1379.2,776.8 1377.9,777.2 1377.6,779.7 1376.4,780.8 1374.6,780.8 1373.3,779.7 1372.8,774.8 1372.3,775.2 1372.0,779.1 1371.0,779.7 1370.7,790.0 1367.4,790.0 1366.1,788.7 1365.8,777.2 1365.1,776.1 1364.8,771.8 1364.3,772.0 1363.3,773.0 1362.0,774.3 1361.7,781.6 1361.0,782.3 1360.7,786.8 1358.6,786.8 1357.4,785.9 1356.1,786.4 1355.8,792.8 1354.8,793.8 1352.5,793.8 1351.2,792.6 1350.7,770.1 1349.9,769.2 1347.1,769.2 1346.8,773.6 1346.1,773.9 1345.8,784.6 1345.3,784.9 1343.8,786.4 1342.5,786.8 1341.2,785.5 1340.9,780.0 1339.6,780.0 1339.4,785.5 1338.6,786.8 1336.3,786.8 1335.0,785.5 1334.8,769.5 1334.3,768.8 1333.2,768.2 1331.9,769.2 1330.4,769.7 1329.4,768.8 1328.4,768.2 1327.6,769.5 1326.3,770.7 1324.5,770.7 1323.5,769.5 1322.2,768.8 1321.9,774.3 1320.9,774.8 1320.6,778.7 1320.0,779.1 1317.7,779.1 1316.4,778.2 1316.1,770.7 1315.6,770.1 1314.1,770.7 1313.8,779.7 1312.8,780.8 1310.8,780.8 1309.5,779.7 1309.0,772.0 1307.4,771.8 1306.9,767.9 1305.9,768.2 1305.6,771.8 1304.3,772.7 1302.8,773.0 1302.5,779.7 1300.2,780.0 1298.7,781.6 1297.4,782.5 1295.9,782.9 1295.6,787.4 1294.8,788.7 1291.2,788.7 1290.7,780.8 1288.4,780.8 1287.1,779.7 1286.9,767.1 1286.4,766.9 1286.1,763.0 1285.6,763.0 1284.6,764.7 1279.2,765.0 1278.2,765.9 1276.9,766.2 1276.6,774.6 1275.3,775.9 1273.5,775.9 1272.2,774.3 1272.0,771.0 1271.2,771.8 1267.4,771.8 1267.1,768.8 1266.3,768.8 1266.1,770.7 1265.1,771.8 1262.0,772.0 1261.7,778.7 1259.9,780.4 1258.6,781.0 1257.4,780.0 1256.6,778.2 1255.6,778.2 1255.3,780.8 1254.0,782.0 1252.5,782.0 1251.2,780.8 1250.9,769.5 1250.2,768.8 1249.9,765.0 1248.9,765.0 1248.6,785.9 1245.8,785.9 1244.3,784.9 1244.0,782.3 1243.5,782.0 1242.2,783.3 1240.7,783.8 1239.4,782.9 1238.9,779.1 1237.8,779.1 1237.3,782.9 1234.2,782.9 1233.0,781.6 1232.7,776.8 1230.9,776.8 1230.7,788.7 1229.1,790.3 1227.6,791.0 1226.3,789.7 1226.0,785.9 1225.3,785.5 1224.2,783.8 1222.7,783.6 1221.7,782.0 1220.6,782.9 1219.4,782.9 1218.1,781.6 1217.8,776.1 1217.0,775.9 1216.5,773.0 1215.0,773.0 1214.7,791.0 1214.2,791.9 1212.4,792.6 1210.6,791.9 1209.9,790.6 1208.8,789.7 1208.6,782.9 1207.3,782.9 1206.3,783.6 1204.5,783.6 1203.2,782.5 1202.9,775.9 1202.2,775.2 1201.6,770.7 1200.9,771.8 1197.0,771.8 1196.5,765.9 1195.5,765.0 1194.5,765.6 1192.9,765.9 1192.7,770.7 1191.4,771.8 1189.3,771.8 1188.3,770.7 1188.0,766.2 1187.3,765.9 1187.0,777.2 1186.2,777.8 1185.7,802.6 1184.7,803.5 1182.9,804.8 1181.6,803.5 1181.4,797.7 1180.3,797.1 1180.1,782.9 1179.1,782.9 1178.5,792.8 1177.3,793.8 1175.5,793.6 1174.4,792.6 1173.9,775.9 1171.3,775.9 1170.6,777.2 1169.3,778.7 1167.8,779.7 1167.0,779.1 1166.0,779.1 1165.7,794.5 1164.7,795.8 1161.6,795.8 1161.3,792.6 1160.6,791.5 1160.3,776.1 1159.5,775.9 1159.0,772.0 1158.0,772.0 1157.2,770.7 1156.2,768.8 1155.7,765.9 1154.4,766.9 1153.1,767.1 1152.6,771.8 1150.8,773.6 1149.3,774.3 1148.5,776.1 1147.2,778.2 1145.9,778.7 1144.6,777.8 1143.6,775.9 1143.1,773.0 1141.8,773.3 1141.3,778.7 1140.0,779.7 1136.7,779.7 1135.4,778.7 1135.1,769.5 1134.1,768.8 1133.9,763.0 1132.6,763.0 1132.3,767.5 1131.0,767.9 1130.5,785.9 1127.7,785.9 1126.4,784.6 1125.9,782.9 1122.6,782.9 1121.3,782.0 1121.0,775.9 1120.0,775.2 1119.3,775.9 1118.0,774.8 1116.8,775.2 1116.5,781.6 1113.2,781.3 1112.1,779.7 1111.9,775.2 1111.1,775.2 1110.8,777.8 1109.6,778.7 1107.5,778.7 1106.2,777.8 1105.2,774.6 1104.9,761.1 1104.2,761.1 1103.9,768.2 1102.9,769.5 1099.3,769.7 1098.5,771.8 1095.4,771.8 1094.4,770.7 1093.6,771.8 1091.8,772.0 1091.3,774.6 1089.8,776.1 1088.5,776.8 1087.2,775.2 1085.9,773.6 1084.7,772.7 1083.6,770.7 1082.9,768.8 1081.6,768.2 1081.1,766.2 1080.0,765.9 1079.8,770.7 1078.8,771.8 1075.4,771.8 1074.4,772.7 1072.6,773.0 1071.8,775.2 1070.8,775.9 1070.5,784.6 1069.0,786.4 1067.5,786.8 1066.2,784.9 1065.9,782.3 1064.9,781.0 1063.9,780.8 1063.6,788.7 1062.6,789.7 1060.8,790.0 1059.5,788.7 1059.2,779.7 1058.2,779.7 1058.0,792.6 1056.9,793.8 1054.1,793.8 1052.8,792.3 1052.6,779.7 1051.5,780.8 1048.0,781.7 1046.8,779.9 1046.2,773.4 1045.4,772.3 1043.9,769.4 1042.2,768.6 1039.8,769.4 1038.7,775.5 1036.9,777.0 1032.3,777.0 1031.4,779.6 1029.9,781.7 1028.5,782.5 1027.3,781.1 1025.9,781.4 1025.3,793.7 1023.0,794.7 1021.2,793.7 1020.6,785.7 1020.1,763.2 1018.9,762.2 1017.7,761.0 1016.3,760.3 1015.7,771.2 1013.9,772.9 1012.5,773.8 1011.3,771.9 1009.9,772.6 1008.1,772.3 1007.0,769.7 1005.2,770.0 1004.6,775.5 1003.5,780.6 1002.3,783.5 1000.3,785.0 998.5,784.3 997.1,784.6 996.5,791.5 995.0,792.7 992.4,793.0 991.0,792.3 989.2,793.3 988.6,803.5 985.1,803.9 984.6,817.7 982.8,819.5 981.1,819.9 980.5,830.1 979.9,838.4 976.1,838.8 975.8,845.4 974.7,847.5 972.6,848.0 971.2,846.1 970.9,832.3 969.7,831.5 968.3,830.1 968.0,816.3 966.5,815.5 965.7,809.7 965.1,802.9 963.3,801.7 962.5,787.9 961.9,769.7 960.4,769.0 959.5,763.9 959.0,753.7 957.8,753.0 956.6,743.5 955.5,737.0 955.0,721.0 954.4,720.3 954.1,717.7 953.3,718.1 952.7,726.8 951.8,728.3 950.1,728.7 948.9,726.8 948.3,719.1 947.1,719.5 946.9,734.8 946.0,736.3 942.8,736.6 942.2,740.6 941.6,748.6 940.7,750.8 939.0,752.0 938.7,769.7 937.8,771.5 934.9,771.9 933.2,770.5 932.6,765.4 931.7,766.8 931.4,780.6 930.3,782.5 927.7,782.5 926.5,779.9 925.3,776.7 924.7,768.6 923.9,769.4 921.8,770.5 919.8,771.5 916.9,771.9 916.0,779.9 915.4,795.2 914.3,797.1 912.5,797.7 911.1,797.1 910.2,796.6 908.7,798.8 907.3,797.4 906.1,796.6 905.5,815.5 902.9,816.3 902.3,832.6 900.9,834.5 899.4,834.5 898.3,832.3 897.1,830.1 896.2,827.2 895.1,827.9 894.8,846.1 893.9,847.5 892.2,849.0 890.4,848.3 889.3,846.1 888.7,833.7 887.8,831.5 886.6,832.0 885.2,831.1 884.3,822.8 883.7,818.9 882.3,817.4 882.0,806.1 880.5,804.9 879.4,803.2 878.8,795.2 877.9,791.5 876.7,790.1 875.6,787.2 875.0,772.3 873.5,771.9 873.3,765.4 872.1,765.1 870.9,766.1 870.6,776.7 869.5,778.5 867.7,779.2 867.1,788.9 864.2,788.6 862.5,787.9 860.5,788.9 858.7,788.6 857.8,782.8 857.5,756.3 856.7,755.2 856.1,740.3 854.3,738.5 853.8,731.2 852.9,727.8 851.4,726.1 850.9,721.0 849.7,715.2 849.1,708.9 847.1,708.3 845.9,706.5 845.3,702.8 844.5,704.3 842.7,706.5 841.0,708.6 840.7,728.4 839.2,728.7 838.1,729.7 837.8,746.7 836.6,748.6 834.6,750.5 832.8,752.3 831.7,757.4 829.6,758.1 829.0,766.1 828.5,772.3 826.7,773.8 824.4,773.4 823.2,771.2 822.3,774.4 820.6,775.8 819.1,775.5 818.3,773.4 817.7,777.7 816.5,779.6 813.9,779.9 812.7,777.7 812.2,769.4 810.1,769.0 809.5,771.5 806.1,771.9 805.5,795.9 804.0,798.1 802.3,799.5 800.0,798.8 798.8,799.5 798.5,829.4 797.7,831.5 795.6,832.3 794.2,830.8 793.6,817.7 792.1,821.4 790.7,822.8 790.1,850.5 788.1,852.6 787.2,860.6 785.2,861.4 783.7,859.9 783.4,851.9 782.5,849.7 781.7,839.5 780.5,838.1 779.1,836.6 778.5,816.3 776.7,817.0 775.9,820.6 774.1,822.4 772.7,821.4 771.5,815.5 771.2,783.5 770.3,781.4 768.9,782.1 767.4,781.1 766.5,769.7 766.0,764.6 764.5,764.6 763.6,767.5 762.2,771.9 760.1,773.4 759.3,777.7 758.7,783.5 757.2,785.4 755.8,785.4 754.6,783.5 754.0,765.4 753.2,762.5 752.0,751.5 751.4,746.5 749.7,744.3 748.8,733.4 747.6,726.8 746.2,722.5 744.4,721.0 743.0,717.4 741.2,715.2 740.7,697.0 740.1,697.3 738.6,698.2 736.9,699.2 736.3,707.2 735.4,717.1 731.9,717.4 731.1,729.7 729.0,732.6 727.3,733.4 726.7,771.2 725.2,772.6 723.5,772.6 722.3,771.2 721.7,760.3 721.2,761.0 720.6,772.6 719.4,774.4 717.7,774.4 715.9,772.6 715.1,761.0 713.6,759.5 712.7,752.3 711.9,755.2 711.0,758.1 710.4,766.1 708.9,768.3 708.1,779.9 706.3,780.6 704.9,779.9 703.4,778.5 701.4,780.6 699.6,782.5 697.9,782.8 697.6,790.1 696.7,794.5 695.9,796.6 693.8,796.6 692.7,795.2 691.5,793.7 691.2,805.4 690.3,806.1 689.5,811.9 687.7,813.4 687.1,817.7 686.3,825.7 684.5,827.9 683.6,830.8 682.2,831.5 680.7,829.4 679.0,830.1 678.1,833.7 676.4,835.2 674.9,834.5 673.5,830.1 673.2,809.0 672.3,807.5 671.7,795.9 670.5,793.7 669.1,790.1 668.5,781.4 667.1,780.6 665.6,778.2 665.3,766.8 664.4,765.4 663.9,745.7 663.3,724.6 662.1,725.4 660.7,724.3 657.5,723.9 656.6,719.5 656.0,710.8 654.8,711.3 654.5,723.9 653.1,725.4 651.3,726.4 649.3,726.1 647.9,729.7 647.6,742.8 646.4,744.3 645.1,745.9 644.1,745.1 643.0,745.6 642.6,759.7 641.1,760.4 638.4,760.4 637.9,759.3 637.1,759.3 636.7,768.3 635.6,769.7 634.1,770.1 633.7,776.3 632.6,777.7 630.3,777.7 629.2,777.4 629.0,771.7 628.1,770.6 627.7,768.0 624.8,768.0 624.5,771.6 623.1,772.7 621.4,772.7 620.3,771.6 619.9,768.0 616.3,768.0 615.8,768.5 614.1,769.2 613.7,786.5 612.6,787.8 611.0,788.8 609.9,788.1 609.1,785.3 608.2,783.8 607.8,769.2 606.7,769.2 606.3,775.8 604.8,777.2 603.3,778.6 601.6,778.6 600.3,777.7 600.1,768.3 599.5,766.8 598.4,765.4 597.4,763.1 596.7,761.2 595.9,761.2 595.5,780.5 594.4,781.5 592.9,782.0 592.7,788.6 591.8,789.5 588.4,789.5 588.0,786.9 587.0,785.7 586.8,778.2 585.9,778.0 584.8,778.6 582.1,778.6 581.6,776.3 580.4,774.4 578.9,773.3 577.8,773.0 577.4,779.6 574.2,779.6 573.0,778.6 572.7,773.0 570.0,773.0 569.1,773.9 568.7,781.5 567.6,782.4 565.0,782.9 564.0,782.5 563.2,779.7 562.7,774.8 561.4,774.8 560.1,774.3 559.4,772.7 558.3,771.8 557.0,772.0 556.8,777.2 556.3,778.2 554.5,778.7 553.2,778.2 552.2,776.8 551.6,772.7 550.6,772.0 550.1,770.7 549.3,771.0 548.8,779.7 548.1,781.3 546.5,781.6 545.2,781.3 544.2,779.7 543.7,776.1 542.9,774.8 542.2,775.2 541.9,789.4 540.9,790.3 539.3,790.6 538.3,791.5 537.0,789.4 536.0,787.7 535.7,767.1 534.7,765.9 533.9,766.2 533.7,776.1 532.7,777.8 531.4,778.7 530.3,778.4 529.3,777.2 528.8,772.7 528.0,772.0 527.8,767.1 526.2,767.5 524.7,768.2 524.2,770.7 523.2,771.4 522.6,772.7 521.9,773.9 520.8,774.8 519.8,776.1 518.5,776.8 517.2,775.9 516.2,774.8 514.2,774.6 513.4,773.6 512.6,771.8 511.9,772.0 511.6,777.8 510.8,778.2 510.6,794.9 507.5,794.9 506.2,793.8 505.9,774.8 504.4,774.8 503.1,774.3 502.1,773.0 501.3,772.0 498.0,772.0 497.7,780.0 497.0,781.6 493.4,781.6 492.9,778.2 492.1,777.2 491.8,765.9 491.3,766.2 490.3,768.8 489.0,769.7 488.0,770.1 487.7,777.8 486.7,778.7 483.9,778.4 483.1,777.8 482.3,778.7 480.5,778.7 480.0,779.7 479.0,781.6 475.4,781.6 475.1,779.7 474.4,778.7 473.9,775.9 473.1,775.9 471.3,776.8 470.3,775.9 469.2,774.8 468.7,775.6 467.2,775.6 466.2,774.8 465.1,775.2 464.6,777.8 463.6,778.7 461.5,778.7 460.3,778.4 459.2,776.8 458.7,774.8 456.9,775.2 456.7,781.6 455.6,782.5 453.6,782.5 452.3,780.8 451.8,778.2 450.2,777.8 448.7,778.2 447.4,778.7 446.1,777.2 445.1,775.9 444.8,769.2 443.8,769.2 443.6,785.5 441.8,787.2 440.5,787.7 439.2,785.5 438.2,783.6 437.7,779.7 433.5,779.7 433.0,779.1 430.2,778.7 429.2,777.2 428.4,775.9 427.6,773.9 426.6,774.3 426.4,790.0 424.8,791.5 423.5,791.9 422.3,790.0 421.2,788.7 421.0,771.0 420.5,770.7 419.7,771.8 418.9,773.0 417.4,773.9 416.3,774.8 415.3,773.6 414.8,770.7 414.0,770.7 413.8,773.6 412.5,774.8 410.7,774.8 409.4,773.6 408.4,771.8 407.1,771.0 405.8,770.1 404.8,770.7 404.5,774.8 402.2,774.8 400.9,775.6 398.9,775.6 398.1,774.3 397.1,772.7 396.8,767.9 395.8,768.2 395.6,781.6 394.5,782.9 391.4,782.9 390.2,780.8 389.6,779.7 388.9,778.2 387.1,778.2 385.3,779.7 383.5,780.0 382.2,778.7 381.9,763.0 381.2,762.8 380.9,759.8 380.1,758.9 379.1,759.8 378.9,772.0 378.4,772.7 377.8,773.9 376.6,775.6 375.0,775.9 374.0,775.2 373.0,773.6 372.7,769.2 371.2,769.2 370.0,770.1 369.2,771.4 367.7,773.0 366.1,773.6 364.6,773.0 363.3,772.0 362.0,770.7 361.5,766.9 360.0,767.1 359.7,772.0 359.2,772.7 358.4,776.8 352.0,777.2 351.5,783.6 348.2,783.6 347.2,782.5 346.9,773.0 346.1,772.7 345.6,771.0 344.8,771.0 344.6,781.3 343.6,782.5 341.5,782.5 340.2,781.3 339.7,774.8 338.9,773.0 338.2,772.0 337.9,760.2 337.4,759.8 336.6,761.1 335.6,762.0 333.3,763.0 332.8,765.0 332.0,766.2 330.5,767.5 328.9,768.2 328.7,782.5 327.4,783.6 325.3,783.6 324.0,782.3 323.8,773.9 322.8,774.3 322.2,775.9 321.5,776.8 318.9,776.8 318.1,776.1 317.6,773.9 316.9,772.7 316.3,772.0 315.1,773.0 314.0,773.6 313.3,777.2 312.5,777.8 312.0,779.7 310.9,781.3 309.4,781.6 308.1,781.0 307.1,779.7 306.8,771.8 306.1,772.0 304.8,773.6 303.5,773.6 302.2,772.0 300.9,771.0 300.7,765.9 299.7,765.9 299.4,775.9 298.4,776.8 296.3,776.8 295.0,775.9 294.5,773.9 294.0,773.0 293.0,773.3 292.5,774.8 291.2,775.9 289.4,776.1 287.8,777.8 286.6,778.7 285.3,778.7 284.2,777.2 283.2,775.9 283.0,770.1 282.2,770.1 281.9,779.7 281.4,780.0 279.9,781.6 278.3,781.3 277.3,779.7 276.0,778.2 275.5,776.1 274.7,776.1 273.2,776.8 271.7,776.1 270.9,774.8 270.6,765.0 268.3,765.0 267.6,765.9 265.5,765.9 263.5,766.6 262.9,765.9 261.9,765.9 261.7,777.8 260.6,779.1 259.6,779.7 259.3,785.9 257.5,786.8 255.8,786.4 254.2,784.9 253.2,783.8 252.9,780.4 252.2,780.0 250.4,779.5 249.1,779.1 248.6,780.8 247.5,781.6 244.5,782.5 241.4,782.9 240.1,781.3 239.6,777.2 238.8,776.1 237.8,775.9 237.5,778.7 236.2,779.7 234.2,779.7 233.2,778.7 232.9,768.2 232.1,767.9 231.9,765.9 231.1,765.9 230.8,776.8 230.3,777.2 230.1,778.7 228.8,779.5 226.0,779.1 224.7,778.2 224.4,789.4 223.4,790.6 220.3,790.6 219.8,788.5 218.8,788.7 218.5,791.0 217.5,792.6 214.4,792.6 213.6,789.7 212.9,788.7 212.6,784.6 211.8,785.5 210.3,785.5 209.0,784.9 208.0,783.8 207.7,778.2 204.7,778.2 204.4,780.0 203.1,781.6 200.3,781.6 199.0,779.7 198.8,767.9 197.7,767.9 197.5,772.7 196.4,774.3 195.7,774.8 195.4,778.4 194.4,779.7 192.6,779.7 191.3,778.7 190.3,777.8 189.5,778.7 188.2,779.7 186.4,779.7 185.1,778.7 184.9,772.7 184.1,772.0 183.9,768.2 183.1,767.9 182.6,770.7 181.8,772.0 181.6,786.4 180.3,787.4 178.0,787.7 176.7,786.4 176.4,776.8 174.6,776.8 173.3,776.1 173.1,769.2 172.3,768.8Z"/>
<use href="#tr" fill="#000" transform="translate(0,699)"/>
</g>
<g font-family="'Liberation Serif', 'Times New Roman', Times, serif" font-weight="bold" fill="#000">
<text transform="translate(172.5,1260.9) scale(1.02,1.0775)" font-size="62" text-anchor="middle">3350</text>
<text transform="translate(560.5,1260.9) scale(1.02,1.0775)" font-size="62" text-anchor="middle">3400</text>
<text transform="translate(948.5,1260.9) scale(1.02,1.0775)" font-size="62" text-anchor="middle">3450</text>
<text transform="translate(1336.5,1260.9) scale(1.02,1.0775)" font-size="62" text-anchor="middle">3500</text>
<text transform="translate(806.15,1342) scale(1.0064,1.035)" font-size="78" text-anchor="middle">Magnetic field (G)</text>
<text transform="translate(94.4,615.5) rotate(-90)" font-size="81.4" text-anchor="middle">Intensity (a.u.)</text>
<text transform="translate(1037.8,290.2) scale(1.004,1.035)" font-size="78" fill="#00f"><tspan dy="0">N</tspan><tspan font-size="46" dy="30.92">2</tspan><tspan dy="-30.92">/O-g-C</tspan><tspan font-size="46" dy="30.92">3</tspan><tspan dy="-30.92">N</tspan><tspan font-size="46" dy="30.92">4</tspan></text>
<text transform="translate(1167.7,657.5) scale(1.01,1.035)" font-size="78" fill="#f00"><tspan dy="0">O-g-C</tspan><tspan font-size="46" dy="30.92">3</tspan><tspan dy="-30.92">N</tspan><tspan font-size="46" dy="30.92">4</tspan></text>
<text transform="translate(1271.6,1000.8) scale(1.0,1.035)" font-size="78" fill="#000"><tspan dy="0">g-C</tspan><tspan font-size="46" dy="30.92">3</tspan><tspan dy="-30.92">N</tspan><tspan font-size="46" dy="30.92">4</tspan></text>
</g>
</svg>
</body></html>
